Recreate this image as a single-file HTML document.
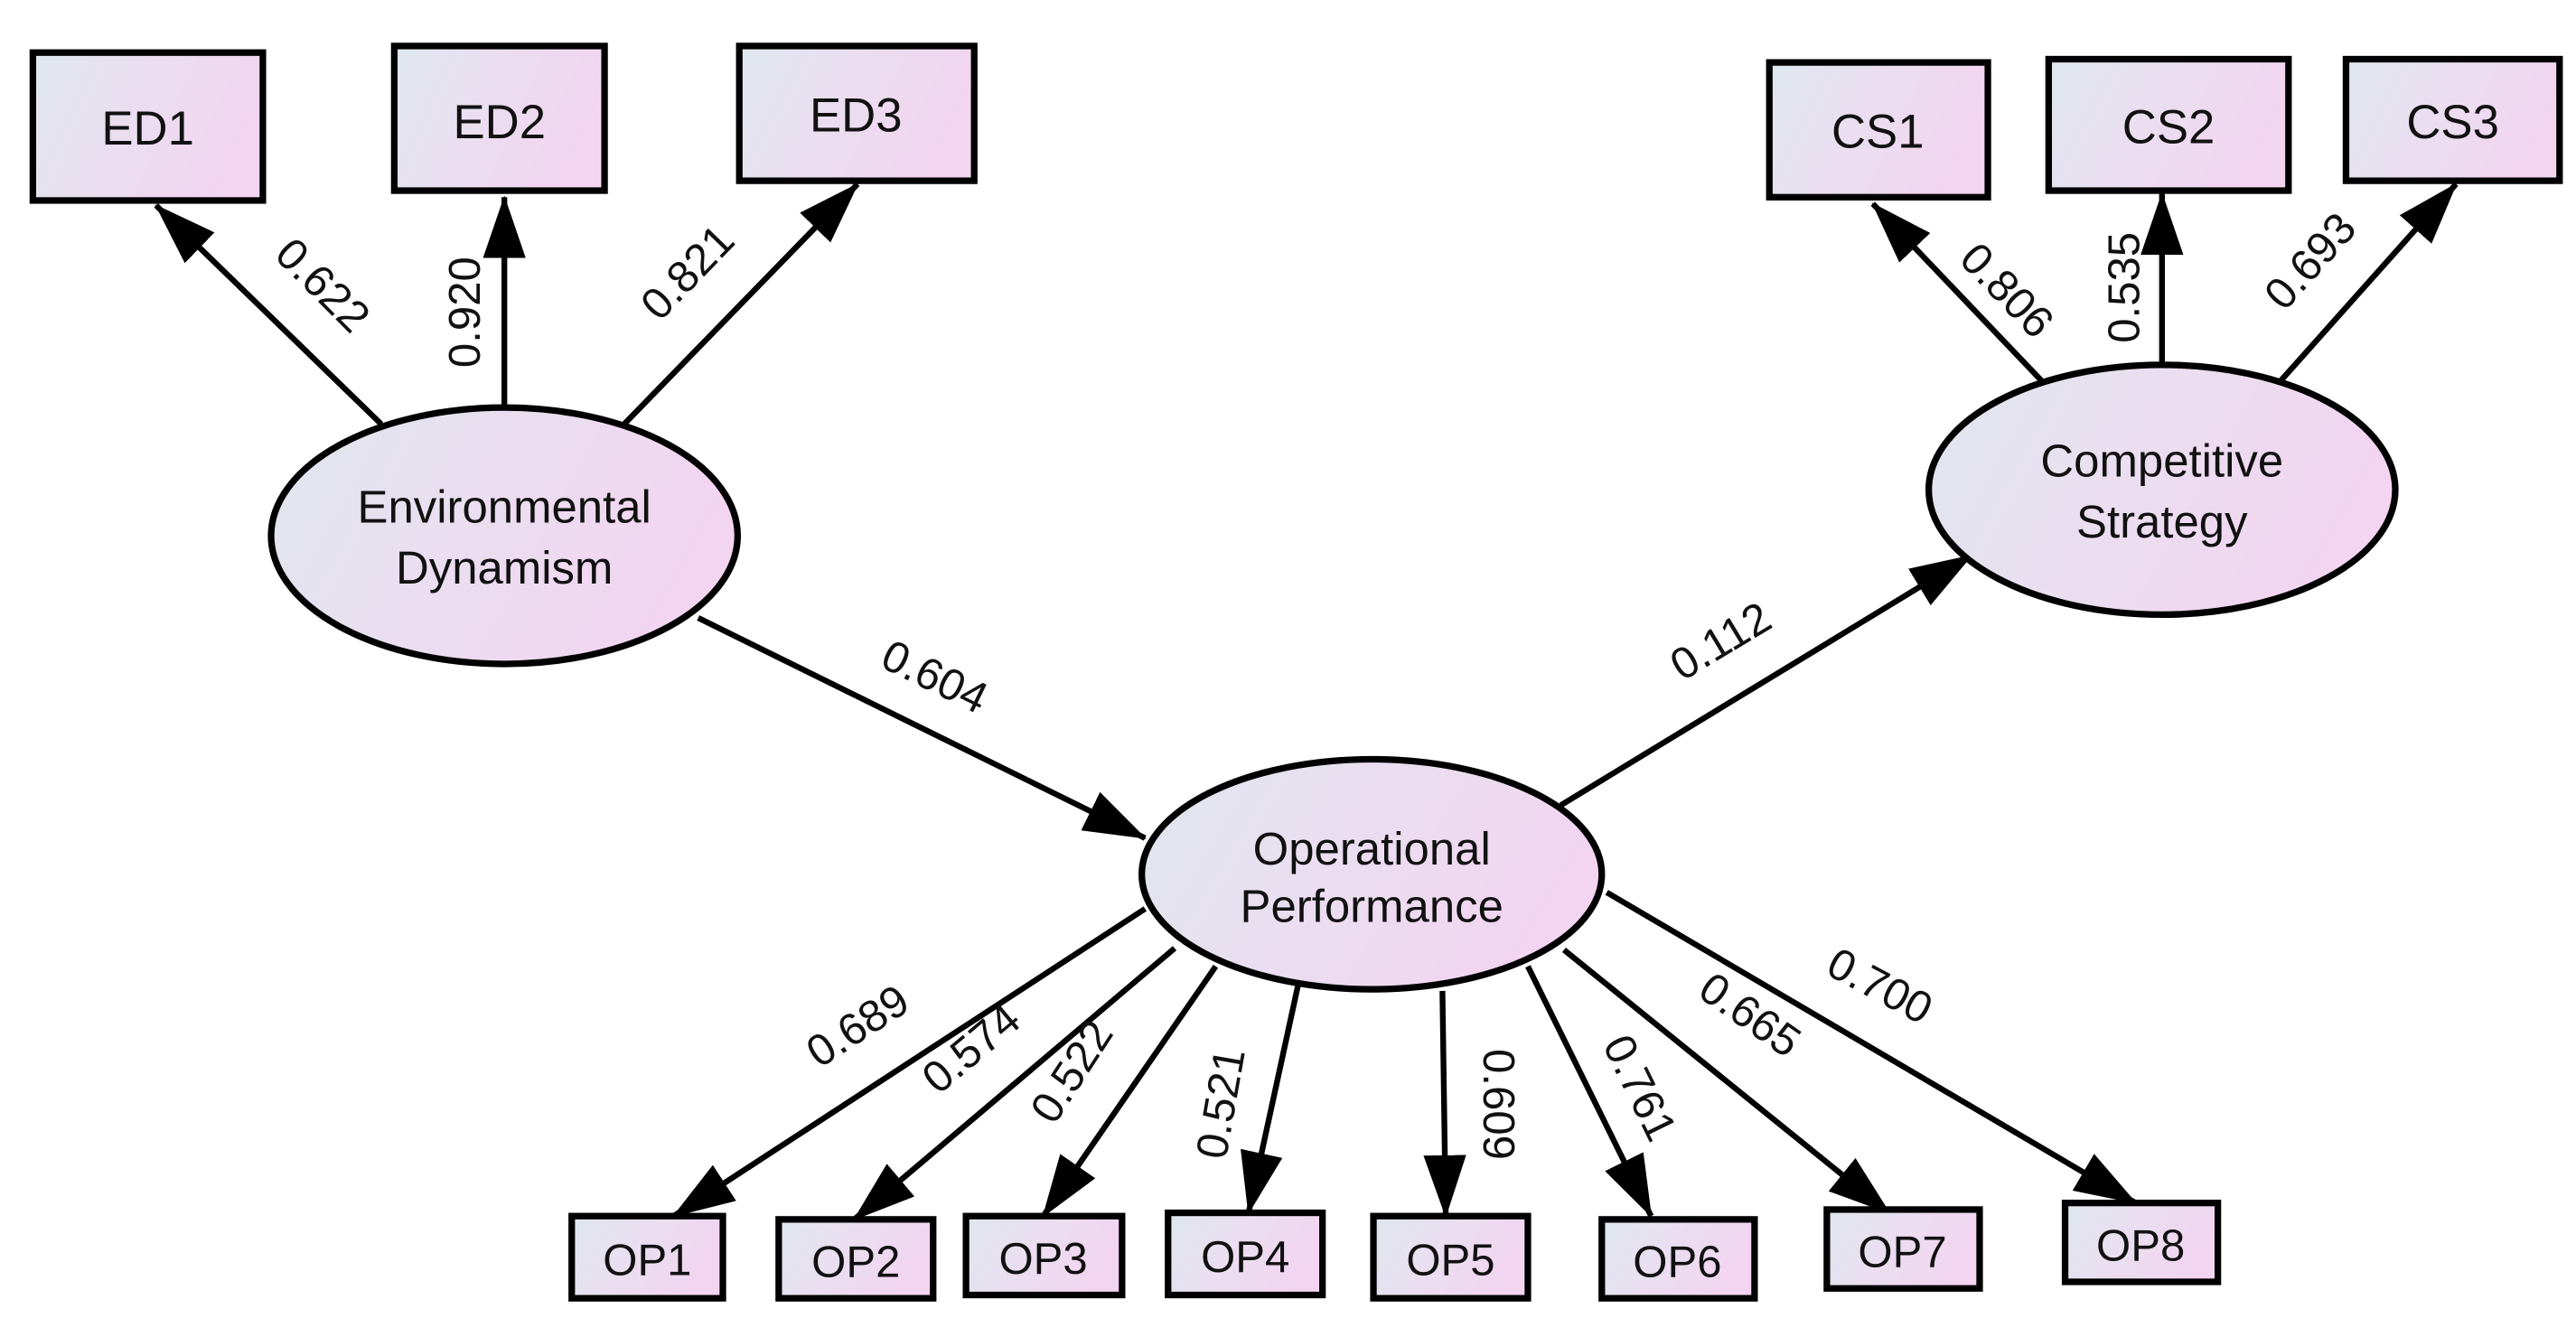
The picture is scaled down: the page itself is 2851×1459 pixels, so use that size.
<!DOCTYPE html>
<html><head><meta charset="utf-8"><style>html,body{margin:0;padding:0;background:#fff}svg{display:block}</style></head>
<body>
<svg width="2851" height="1459" viewBox="0 0 1568 802" preserveAspectRatio="none" xmlns="http://www.w3.org/2000/svg" font-family="Liberation Sans, Arial, sans-serif">
<defs>
<linearGradient id="g" x1="0" y1="0" x2="1" y2="0.3"><stop offset="0" stop-color="#dfe7ee"/><stop offset="0.6" stop-color="#ecdcf0"/><stop offset="1" stop-color="#f3d4f1"/></linearGradient>
<marker id="a" markerWidth="38" markerHeight="26" refX="37" refY="13" orient="auto" markerUnits="userSpaceOnUse" viewBox="0 0 38 26"><path d="M0,0 L38,13 L0,26 z" fill="#000"/></marker>
</defs>
<g stroke="#000" stroke-width="3.5" fill="none">
<g marker-end="url(#a)">
<line x1="232" y1="258" x2="95" y2="125"/>
<line x1="307" y1="248" x2="307" y2="120"/>
<line x1="380" y1="258" x2="522" y2="112"/>
<line x1="425" y1="376" x2="697" y2="510"/>
<line x1="950" y1="490" x2="1200" y2="338"/>
<line x1="1243" y1="232" x2="1140" y2="124"/>
<line x1="1316" y1="222" x2="1316" y2="118"/>
<line x1="1388" y1="232" x2="1495" y2="112"/>
<line x1="697" y1="553" x2="410" y2="740"/>
<line x1="715" y1="577" x2="520" y2="742"/>
<line x1="740" y1="588" x2="635" y2="740"/>
<line x1="790" y1="600" x2="760" y2="738"/>
<line x1="878" y1="603" x2="880" y2="740"/>
<line x1="930" y1="588" x2="1005" y2="740"/>
<line x1="952" y1="578" x2="1150" y2="738"/>
<line x1="978" y1="543" x2="1300" y2="732"/>
</g>
</g>
<g fill="url(#g)" stroke="#000" stroke-width="4">
<rect x="20" y="32" width="140" height="90"/>
<rect x="240" y="28" width="128" height="88"/>
<rect x="450" y="28" width="143" height="82"/>
<rect x="1077" y="38" width="133" height="82"/>
<rect x="1247" y="36" width="146" height="80"/>
<rect x="1428" y="36" width="130" height="74"/>
<ellipse cx="307" cy="326" rx="142" ry="78"/>
<ellipse cx="1316" cy="298" rx="142" ry="76"/>
<ellipse cx="835" cy="532" rx="140" ry="70"/>
<rect x="348" y="740" width="92" height="50"/>
<rect x="474" y="742" width="94" height="48"/>
<rect x="588" y="740" width="95" height="48"/>
<rect x="711" y="738" width="94" height="50"/>
<rect x="836" y="740" width="94" height="50"/>
<rect x="975" y="742" width="93" height="48"/>
<rect x="1112" y="736" width="93" height="48"/>
<rect x="1257" y="732" width="93" height="48"/>
</g>
<g font-size="29" text-anchor="middle" fill="#111">
<text x="90" y="88">ED1</text>
<text x="304" y="84">ED2</text>
<text x="521" y="80">ED3</text>
<text x="1143" y="90">CS1</text>
<text x="1320" y="87">CS2</text>
<text x="1493" y="84">CS3</text>
<text x="307" y="318" font-size="28">Environmental</text>
<text x="307" y="355" font-size="28">Dynamism</text>
<text x="1316" y="290" font-size="28">Competitive</text>
<text x="1316" y="327" font-size="28">Strategy</text>
<text x="835" y="526" font-size="28">Operational</text>
<text x="835" y="561" font-size="28">Performance</text>
<g font-size="27">
<text x="394" y="776">OP1</text>
<text x="521" y="777">OP2</text>
<text x="635" y="775">OP3</text>
<text x="758" y="774">OP4</text>
<text x="883" y="776">OP5</text>
<text x="1021" y="777">OP6</text>
<text x="1158" y="771">OP7</text>
<text x="1303" y="767">OP8</text>
</g>
<g font-size="27">
<text transform="translate(190,180) rotate(45)">0.622</text>
<text transform="translate(292,190) rotate(-90)">0.920</text>
<text transform="translate(425,172) rotate(-46)">0.821</text>
<text transform="translate(565,420) rotate(26)">0.604</text>
<text transform="translate(1052,398) rotate(-31)">0.112</text>
<text transform="translate(1215,183) rotate(46)">0.806</text>
<text transform="translate(1302,175) rotate(-90)">0.535</text>
<text transform="translate(1413,165) rotate(-48)">0.693</text>
<text transform="translate(527,632) rotate(-33)">0.689</text>
<text transform="translate(597,645) rotate(-40)">0.574</text>
<text transform="translate(660,657) rotate(-57)">0.522</text>
<text transform="translate(752,673) rotate(-80)">0.521</text>
<text transform="translate(903,672) rotate(90)">0.609</text>
<text transform="translate(990,666) rotate(64)">0.761</text>
<text transform="translate(1060,625) rotate(35)">0.665</text>
<text transform="translate(1140,608) rotate(28)">0.700</text>
</g>
</g>
</svg>
</body></html>
